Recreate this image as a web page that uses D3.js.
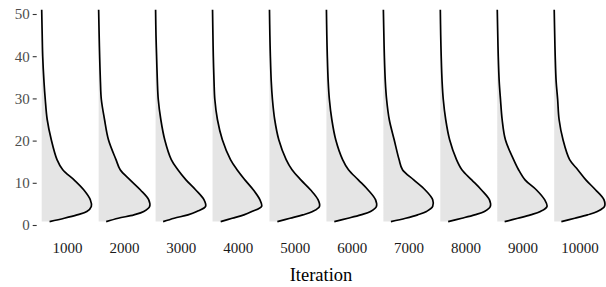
<!DOCTYPE html>
<html>
<head>
<meta charset="utf-8">
<script src="https://d3js.org/d3.v7.min.js"></script>
<style>
  body { margin: 0; background: white; }
  text { font-family: "Liberation Serif", "Times New Roman", serif; }
</style>
</head>
<body>
<div id="chart"></div>
<script>
var svgWidth = 606;
var svgHeight = 287;

// facet labels (iterations)
var iterations = ["1000", "2000", "3000", "4000", "5000", "6000", "7000", "8000", "9000", "10000"];

// values at which the density was read
var values = [0.8, 1.6, 2.4, 3.2, 4.4, 6, 8.3, 10.7, 13.1, 15.5, 20.2, 25, 29.8, 34, 40, 45, 51];

// density estimates, one array per iteration
var dens1000  = [.0142, .0407, .0637, .0814, .0895, .0877, .0761, .0584, .0380, .0276, .0173, .0099, .0064, .0041, .0018, .0009, 0];
var dens2000  = [.0136, .0354, .0637, .0814, .0920, .0902, .0755, .0566, .0389, .0313, .0177, .0106, .0048, .0032, .0018, .0009, 0];
var dens3000  = [.0136, .0336, .0584, .0743, .0902, .0872, .0725, .0548, .0402, .0283, .0165, .0094, .0048, .0032, .0018, .0007, 0];
var dens4000  = [.0147, .0354, .0566, .0708, .0885, .0854, .0738, .0584, .0442, .0324, .0177, .0088, .0041, .0027, .0014, .0007, 0];
var dens5000  = [.0142, .0371, .0601, .0778, .0902, .0876, .0743, .0566, .0407, .0301, .0168, .0094, .0053, .0032, .0016, .0007, 0];
var dens6000  = [.0142, .0389, .0619, .0796, .0902, .0885, .0752, .0575, .0398, .0292, .0168, .0097, .0053, .0032, .0016, .0007, 0];
var dens7000  = [.0136, .0402, .0619, .0778, .0890, .0890, .0755, .0548, .0345, .0283, .0195, .0106, .0058, .0035, .0018, .0009, 0];
var dens8000  = [.0142, .0389, .0619, .0796, .0902, .0885, .0743, .0566, .0389, .0292, .0168, .0097, .0053, .0032, .0016, .0007, 0];
var dens9000  = [.0133, .0371, .0601, .0778, .0897, .0854, .0708, .0501, .0384, .0295, .0147, .0088, .0058, .0035, .0018, .0009, 0];
var dens10000 = [.0129, .0371, .0601, .0778, .0907, .0897, .0748, .0571, .0425, .0278, .0159, .0088, .0062, .0035, .0018, .0009, 0];

var densities = [dens1000, dens2000, dens3000, dens4000, dens5000, dens6000, dens7000, dens8000, dens9000, dens10000];

var yTicks = [0, 10, 20, 30, 40, 50];

var margin = { top: 14, left: 41.7, right: 6 };
var panelStep = 56.4;
var panelWidth = 51;

var svg = d3.select("#chart")
  .append("svg")
  .attr("width", svgWidth)
  .attr("height", svgHeight);

svg.append("rect")
  .attr("width", "100%")
  .attr("height", "100%")
  .attr("fill", "white");

// scales
var yScale = d3.scaleLinear()
  .domain([0, 50])
  .range([225, 14]);

var xScale = d3.scaleLinear()
  .domain([0, 0.092])
  .range([0, panelWidth]);

var panelScale = d3.scaleBand()
  .domain(iterations)
  .range([margin.left, margin.left + panelStep * iterations.length])
  .paddingInner(1 - panelWidth / panelStep)
  .paddingOuter(0)
  .align(0);

// y axis: ticks and labels only
var leftAxis = d3.axisLeft(yScale)
  .tickValues(yTicks)
  .tickSize(4)
  .tickPadding(3);

var yAxisG = svg.append("g")
  .attr("transform", "translate(36.7, 0)")
  .call(leftAxis);

yAxisG.select(".domain").remove();
yAxisG.selectAll(".tick line")
  .attr("stroke", "#333333")
  .attr("stroke-width", 1.1);
yAxisG.selectAll(".tick text")
  .attr("fill", "#4d4d4d")
  .style("font-size", "15px")
  .style("font-family", "'Liberation Serif', serif");

// density areas
var area = d3.area()
  .y(d => yScale(d.v))
  .x0(0)
  .x1(d => xScale(d.d))
  .curve(d3.curveCatmullRom.alpha(0.5));

var line = d3.line()
  .y(d => yScale(d.v))
  .x(d => xScale(d.d))
  .curve(d3.curveCatmullRom.alpha(0.5));

iterations.forEach(function(it, i) {
  var pts = values.map((v, j) => ({ v: v, d: densities[i][j] }));
  var g = svg.append("g")
    .attr("transform", `translate(${panelScale(it)}, 0)`);

  g.append("path")
    .datum(pts)
    .attr("d", area)
    .attr("fill", "#e5e5e5");

  g.append("path")
    .datum(pts)
    .attr("d", line)
    .attr("fill", "none")
    .attr("stroke", "black")
    .attr("stroke-width", 1.7)
    .attr("stroke-linejoin", "round");

  // strip label under each panel
  g.append("text")
    .attr("x", panelScale.bandwidth() / 2)
    .attr("y", 252.5)
    .attr("text-anchor", "middle")
    .attr("fill", "#1a1a1a")
    .style("font-size", "15px")
    .text(it);
});

// axis title
svg.append("text")
  .attr("x", margin.left + (panelStep * iterations.length - (panelStep - panelWidth)) / 2)
  .attr("y", 281)
  .attr("text-anchor", "middle")
  .attr("fill", "black")
  .style("font-size", "18.5px")
  .text("Iteration");
</script>
</body>
</html>
